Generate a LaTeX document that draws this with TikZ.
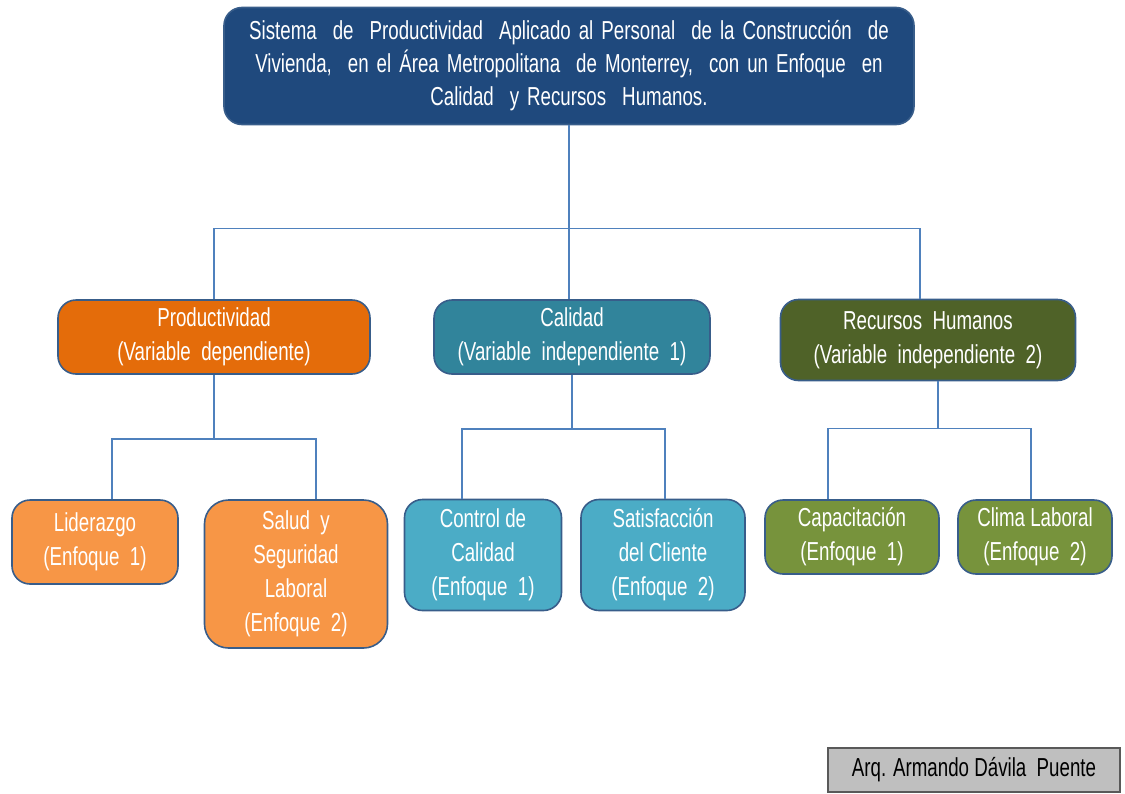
\documentclass[tikz,border=0pt]{standalone}
\usepackage{fontspec}
\setmainfont[FakeStretch=0.72]{Liberation Sans}
\definecolor{topblue}{RGB}{31,73,125}
\definecolor{prodorange}{RGB}{228,108,10}
\definecolor{calteal}{RGB}{49,132,155}
\definecolor{rhgreen}{RGB}{79,98,40}
\definecolor{lightorange}{RGB}{247,150,70}
\definecolor{lightblue}{RGB}{75,172,198}
\definecolor{lightgreen}{RGB}{119,147,60}
\definecolor{boxline}{RGB}{56,93,138}
\definecolor{linkblue}{RGB}{79,129,189}
\newcommand{\widespaces}{\spaceskip=4pt\relax}
\begin{document}
\begin{tikzpicture}[x=0.5pt,y=-0.5pt]
      \useasboundingbox (0,0) rectangle (1125,793);

      \begin{scope}[every node/.style={rounded corners=9pt,draw=boxline,line width=0.8pt,
          text=white,align=center,inner sep=0pt,font=\fontsize{13}{17}\selectfont}]
        \node[fill=topblue,minimum width=345pt,minimum height=58.5pt,
          font=\fontsize{13}{16.5}\selectfont\widespaces] (1) at (569,66)
          {Sistema \ de \ Productividad \ Aplicado al Personal \ de la Construcción \ de\\
           Vivienda, \ en el Área Metropolitana \ de Monterrey, \ con un Enfoque \ en\\
           Calidad \ y Recursos \ Humanos.};
        \node[fill=prodorange,minimum width=156pt,minimum height=37pt] (2) at (214,337)
          {Productividad\\(Variable \ dependiente)};
        \node[fill=calteal,minimum width=138pt,minimum height=37pt] (3) at (572,337)
          {Calidad\\(Variable \ independiente \ 1)};
        \node[fill=rhgreen,minimum width=147.5pt,minimum height=40.5pt] (4) at (928,340)
          {Recursos \ Humanos\\(Variable \ independiente \ 2)};
        \node[fill=lightorange,minimum width=83pt,minimum height=42pt] (5) at (95,542)
          {Liderazgo\\(Enfoque \ 1)};
        \node[fill=lightorange,minimum width=91.5pt,minimum height=74pt,rounded corners=12pt] (6) at (296,574)
          {Salud \ y\\Seguridad\\Laboral\\(Enfoque \ 2)};
        \node[fill=lightblue,minimum width=78.5pt,minimum height=55.5pt] (7) at (483,555)
          {Control de\\Calidad\\(Enfoque \ 1)};
        \node[fill=lightblue,minimum width=82pt,minimum height=55.5pt] (8) at (663,555)
          {Satisfacción\\del Cliente\\(Enfoque \ 2)};
        \node[fill=lightgreen,minimum width=87pt,minimum height=37pt] (9) at (852,537)
          {Capacitación\\(Enfoque \ 1)};
        \node[fill=lightgreen,minimum width=77pt,minimum height=37pt] (10) at (1035,537)
          {Clima Laboral\\(Enfoque \ 2)};
      \end{scope}

      \node[draw={black!65},fill={black!25},line width=0.8pt,minimum width=146pt,minimum height=22pt,
        inner sep=0pt,font=\fontsize{13}{17}\selectfont] (11) at (974,770) {Arq. Armando Dávila \ Puente};

      \begin{scope}[every path/.style={draw=linkblue,line width=0.8pt}]
        \path (1.south) -- ++(0,103) -| (2.north);
        \path (1.south) -- (1.south |- 3.north);
        \path (1.south) -- ++(0,103) -| ([xshift=-4pt]4.north);

        \path (2.south) -- ++(0,64) -| ([xshift=8.5pt]5.north);
        \path (2.south) -- ++(0,64) -| ([xshift=10pt]6.north);

        \path (3.south) -- ++(0,54) -| ([xshift=-10.5pt]7.north);
        \path (3.south) -- ++(0,54) -| ([xshift=1pt]8.north);

        \path ([xshift=5pt]4.south) -- ++(0,47) -| ([xshift=-12pt]9.north);
        \path ([xshift=5pt]4.south) -- ++(0,47) -| ([xshift=-2pt]10.north);
      \end{scope}

    \end{tikzpicture}
\end{document}
